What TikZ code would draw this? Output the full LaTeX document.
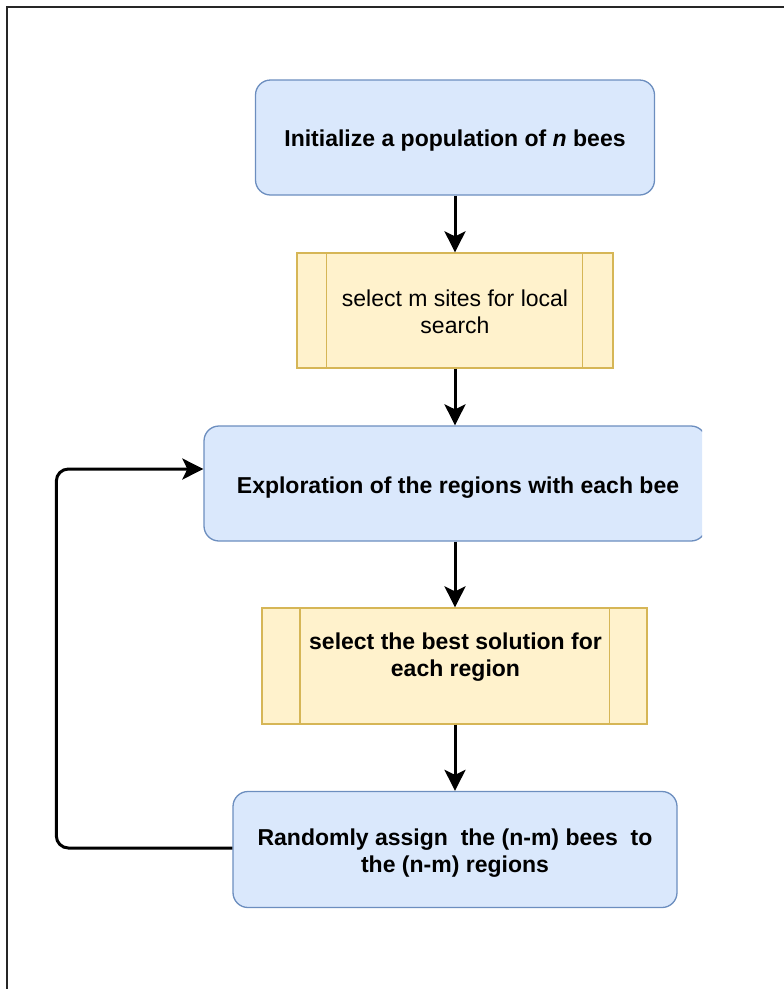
\documentclass[tikz,border=0pt]{standalone}
\usepackage{fontspec}
\setmainfont{Liberation Sans}
\usetikzlibrary{arrows.meta,calc}
\definecolor{blueFill}{HTML}{DAE8FC}
\definecolor{blueLine}{HTML}{6C8EBF}
\definecolor{yellowFill}{HTML}{FFF2CC}
\definecolor{yellowLine}{HTML}{D6B656}
\definecolor{frameLine}{HTML}{262626}
\begin{document}
\begin{tikzpicture}[x=1pt,y=-1pt,
  every node/.style={font=\fontsize{23}{27}\selectfont, text=black, align=center},
  roundbox/.style={draw=blueLine, fill=blueFill, line width=1.3pt, rounded corners=15pt, inner sep=0pt},
  procbox/.style={draw=yellowLine, fill=yellowFill, line width=1.3pt, inner sep=0pt},
  procline/.style={draw=yellowLine, line width=1.3pt},
  flow/.style={line width=3pt, -{Stealth[length=21pt,width=21pt,inset=5pt]}},
  ]
\useasboundingbox (0,0) rectangle (784,989);
% outer frame
\draw[frameLine, line width=1.8pt] (7,995) -- (7,7.3) -- (790,7.3);

% process steps
\node[roundbox, minimum width=399pt, minimum height=115pt] (box1) at (455,137.5) {};
\node (t1) at ($(box1.center)+(0,3)$) {\bfseries Initialize a population of \textit{n} bees};

\node[procbox, minimum width=316pt, minimum height=115pt] (box2) at (455,310.5) {};
\draw[procline] ($(box2.north west)+(30,0)$) -- ($(box2.south west)+(30,0)$);
\draw[procline] ($(box2.north east)+(-31,0)$) -- ($(box2.south east)+(-31,0)$);
\node (t2) at ($(box2.center)+(0,1.5)$) {select m sites for local\\search};

\begin{scope}
  \clip (0,0) rectangle (702,989);
  \node[roundbox, minimum width=502pt, minimum height=115pt] (box3) at (455,483.5) {};
\end{scope}
\node (t3) at ($(box3.center)+(3,4)$) {\bfseries Exploration of the regions with each bee};

\node[procbox, minimum width=385pt, minimum height=116pt] (box4) at (454.5,666) {};
\draw[procline] ($(box4.north west)+(38.5,0)$) -- ($(box4.south west)+(38.5,0)$);
\draw[procline] ($(box4.north east)+(-38.5,0)$) -- ($(box4.south east)+(-38.5,0)$);
\node (t4) at ($(box4.center)+(1,-9)$) {\bfseries select the best solution for\\\bfseries each region};

\node[roundbox, minimum width=444pt, minimum height=116pt] (box5) at (455,849.5) {};
\node (t5) at ($(box5.center)+(0,4)$)
  {\bfseries Randomly assign\ \ the (n-m) bees\ \ to\\\bfseries the (n-m) regions};

% connectors
\draw[flow] (box1.south) -- (box2.north);
\draw[flow] (box2.south) -- (box3.north);
\draw[flow] (box3.south) -- (box4.north -| box3.south);
\draw[flow] (box4.south -| box5.north) -- (box5.north);
\draw[flow, rounded corners=12pt] ($(box5.west)+(0,-1.5)$) -- ++(-176,0) |- ($(box3.west)+(0,-14.5)$);
\end{tikzpicture}
\end{document}
